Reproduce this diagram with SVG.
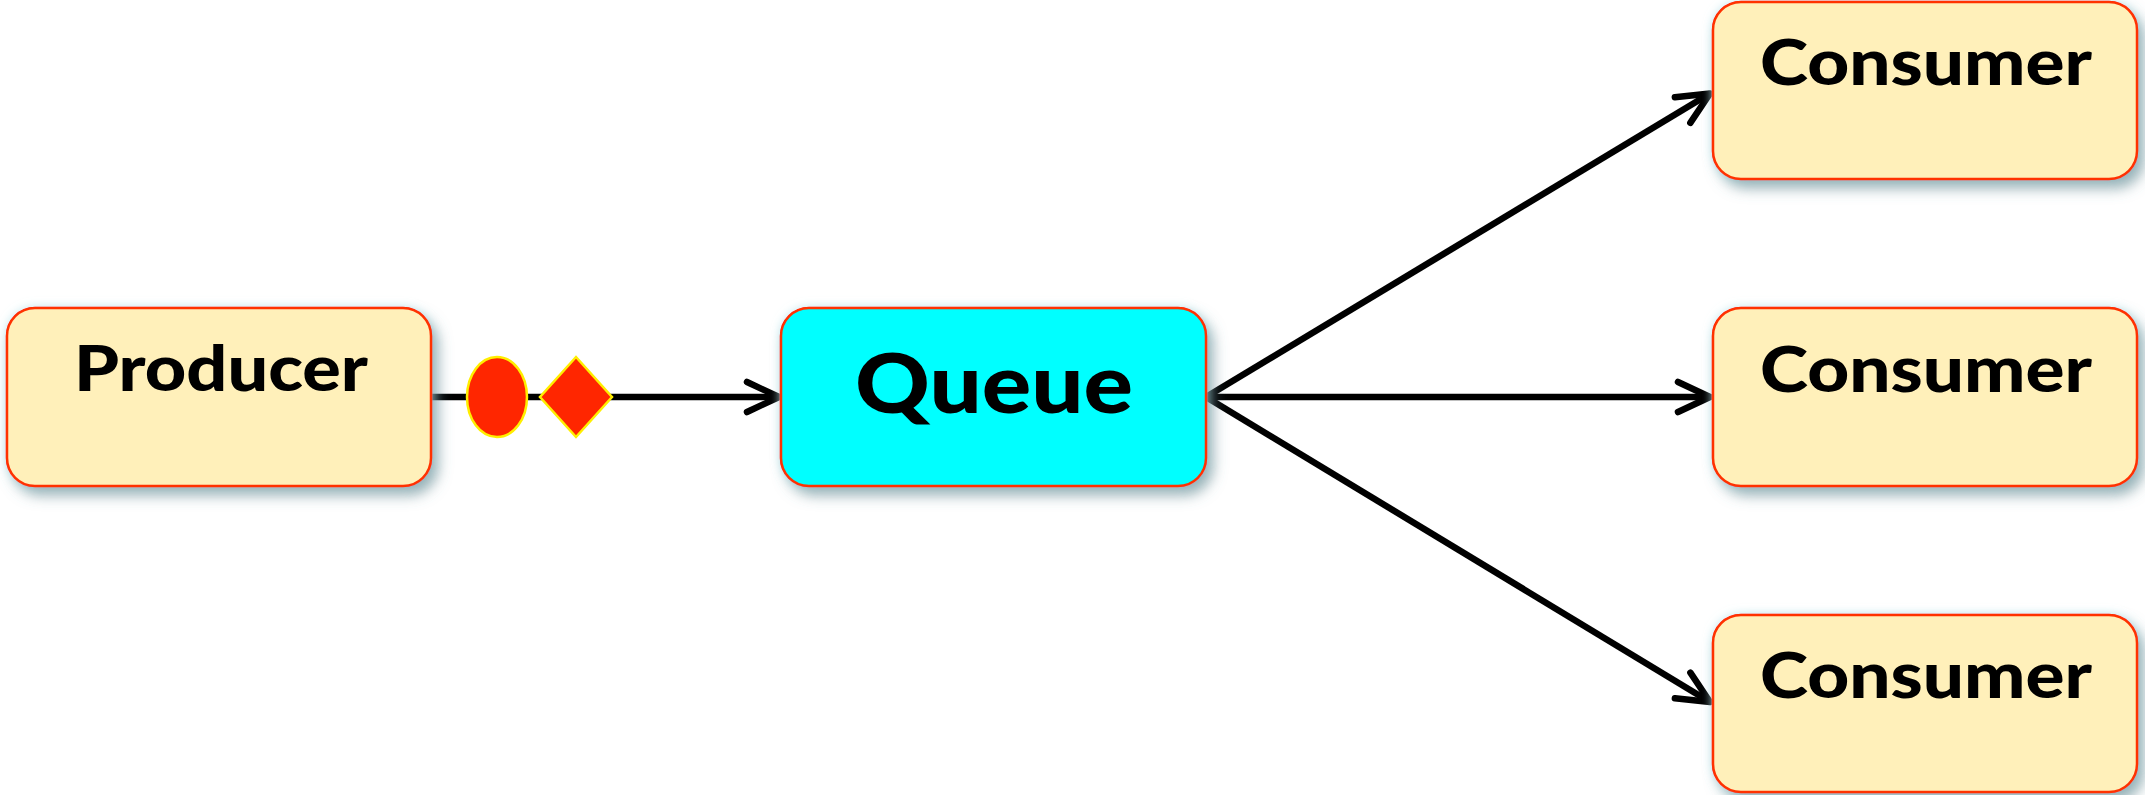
<svg xmlns="http://www.w3.org/2000/svg" width="2145" height="795" viewBox="0 0 2145 795">
  <style>
    .box { stroke: #ff3300; stroke-width: 2.5; filter: url(#shadow); }
    .worker { fill: #fff0ba; }
    .queue { fill: #00ffff; }
    .label { font-family: Lato, "Liberation Sans", sans-serif; font-weight: 900; fill: #000; text-anchor: middle; }
    .edge { stroke: #000; stroke-width: 6.5; fill: none; }
    .token { fill: #ff2600; stroke: #ffee00; stroke-width: 2.5; }
  </style>
  <defs>
    <filter id="shadow" x="-10%" y="-20%" width="125%" height="150%">
      <feDropShadow dx="0" dy="0" stdDeviation="5" flood-color="#bfeaf0" flood-opacity="0.8" result="glow"/>
      <feDropShadow in="SourceGraphic" dx="6" dy="8" stdDeviation="7" flood-color="#5d838c" flood-opacity="0.65" result="drop"/>
      <feMerge>
        <feMergeNode in="glow"/>
        <feMergeNode in="drop"/>
      </feMerge>
    </filter>
    <marker id="chevron" markerUnits="userSpaceOnUse" markerWidth="60" markerHeight="60" refX="0" refY="0" orient="auto" overflow="visible">
      <path d="M -32,-15 L 0,0 L -32,15" fill="none" stroke="#000" stroke-width="6.5" stroke-linecap="round" stroke-linejoin="round"/>
    </marker>
  </defs>

  <!-- connectors -->
  <g id="connectors">
    <line class="edge" x1="431" y1="397" x2="779" y2="397" marker-end="url(#chevron)"/>
    <line class="edge" x1="1206" y1="397" x2="1710" y2="397" marker-end="url(#chevron)"/>
    <line class="edge" x1="1206" y1="397" x2="1710" y2="93.5" marker-end="url(#chevron)"/>
    <line class="edge" x1="1206" y1="397" x2="1710" y2="702" marker-end="url(#chevron)"/>
    <!-- message tokens riding on the producer link -->
    <ellipse class="token" cx="497" cy="397" rx="30" ry="40"/>
    <polygon class="token" points="576,357 612,397 576,437 540,397"/>
  </g>

  <g id="producer">
    <rect class="box worker" x="7" y="308" width="424" height="178" rx="28"/>
    <text class="label" x="221" y="391" font-size="62" textLength="294" lengthAdjust="spacingAndGlyphs">Producer</text>
  </g>

  <g id="queue">
    <rect class="box queue" x="781" y="308" width="425" height="178" rx="28"/>
    <text class="label" x="994" y="413" font-size="82" textLength="278" lengthAdjust="spacingAndGlyphs">Queue</text>
  </g>

  <g id="consumer-top">
    <rect class="box worker" x="1713" y="2" width="424" height="177" rx="28"/>
    <text class="label" x="1926" y="85" font-size="62" textLength="332" lengthAdjust="spacingAndGlyphs">Consumer</text>
  </g>

  <g id="consumer-middle">
    <rect class="box worker" x="1713" y="308" width="424" height="178" rx="28"/>
    <text class="label" x="1926" y="392" font-size="62" textLength="332" lengthAdjust="spacingAndGlyphs">Consumer</text>
  </g>

  <g id="consumer-bottom">
    <rect class="box worker" x="1713" y="615" width="424" height="177" rx="28"/>
    <text class="label" x="1926" y="698" font-size="62" textLength="332" lengthAdjust="spacingAndGlyphs">Consumer</text>
  </g>
</svg>
